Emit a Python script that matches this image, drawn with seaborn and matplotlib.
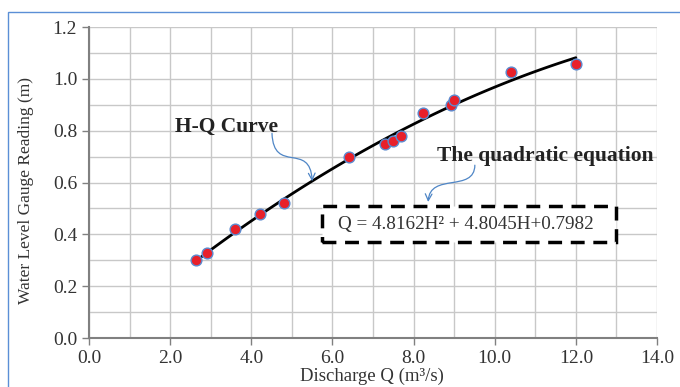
import numpy as np
import pandas as pd
import seaborn as sns
import matplotlib.pyplot as plt
from matplotlib.path import Path
from matplotlib.patches import FancyArrowPatch, Rectangle
from matplotlib.ticker import MultipleLocator

# measured discharge Q (m3/s) and gauge reading H (m)
discharge = [2.64, 2.91, 3.60, 4.21, 4.81, 6.41, 7.30, 7.49, 7.69, 8.23, 8.92, 9.00, 10.40, 12.00]
gauge = [0.30, 0.33, 0.42, 0.478, 0.52, 0.70, 0.748, 0.76, 0.78, 0.868, 0.90, 0.918, 1.026, 1.057]
df = pd.DataFrame({'Q': discharge, 'H': gauge})

# quadratic trendline like the spreadsheet one
coef = np.polyfit(df['Q'], df['H'], 2)
q_fit = np.linspace(min(discharge), max(discharge), 100)
fit = pd.DataFrame({'Q': q_fit, 'H': np.polyval(coef, q_fit)})

sns.set_style('white')
plt.rcParams['font.family'] = ['Liberation Serif', 'DejaVu Serif']

fig = plt.figure(figsize=(6.8, 3.87), dpi=100)
ax = fig.add_axes([0.1309, 0.1266, 0.8353, 0.8034])

sns.lineplot(data=fit, x='Q', y='H', color='black', lw=2, ax=ax, zorder=3)
sns.scatterplot(data=df, x='Q', y='H', color='#e8202a', edgecolor='#5b8bd0',
                linewidth=1, s=60, ax=ax, zorder=4)

ax.set_xlim(0, 14)
ax.set_ylim(0, 1.2)
ax.xaxis.set_major_locator(MultipleLocator(2))
ax.xaxis.set_minor_locator(MultipleLocator(1))
ax.yaxis.set_major_locator(MultipleLocator(0.2))
ax.yaxis.set_minor_locator(MultipleLocator(0.1))
ax.xaxis.set_major_formatter(lambda v, p: f'{v:.1f}')
ax.yaxis.set_major_formatter(lambda v, p: f'{v:.1f}')
ax.grid(True, which='both', color='#c8c8c8', lw=1)
ax.set_axisbelow(True)
for s in ['top', 'right']:
    ax.spines[s].set_visible(False)
for s in ['left', 'bottom']:
    ax.spines[s].set_color('#808080')
    ax.spines[s].set_linewidth(1.5)
ax.tick_params(which='major', length=5, width=1, color='#808080',
               labelsize=14, labelcolor='#333333', direction='out',
               bottom=True, left=True)
ax.set_xlabel('Discharge Q (m³/s)', fontsize=13.5, color='#333333')
ax.set_ylabel('Water Level Gauge Reading (m)', fontsize=12.5, color='#333333')
ax.yaxis.set_label_coords(-0.096, 0.475)
ax.xaxis.set_label_coords(0.498, -0.095)

# annotations
ax.text(3.38, 0.815, 'H-Q Curve', fontsize=15.5, fontweight='bold', color='#222222',
        ha='center', va='center')
ax.text(11.24, 0.702, 'The quadratic equation', fontsize=15.5, fontweight='bold',
        color='#222222', ha='center', va='center')

blue = '#4f86c6'
p1 = Path([(4.51, 0.79), (4.55, 0.63), (5.45, 0.76), (5.50, 0.605)],
          [Path.MOVETO, Path.CURVE4, Path.CURVE4, Path.CURVE4])
p2 = Path([(9.51, 0.667), (9.5, 0.56), (8.4, 0.64), (8.36, 0.525)],
          [Path.MOVETO, Path.CURVE4, Path.CURVE4, Path.CURVE4])
for p in (p1, p2):
    ax.add_patch(FancyArrowPatch(path=p, arrowstyle='->', mutation_scale=12,
                                 color=blue, lw=0.9, zorder=5))

ax.add_patch(Rectangle((5.745, 0.370), 7.245, 0.139, fc='white', ec='black',
                       lw=2.5, ls=(0, (4, 2.5)), zorder=5))
ax.text(9.29, 0.44, 'Q = 4.8162H² + 4.8045H+0.7982', fontsize=13.8,
        color='#333333', ha='center', va='center', zorder=6)

# blue frame of the original figure
fig.add_artist(Rectangle((0.0118, -0.2), 1.2, 0.969 + 0.2, transform=fig.transFigure,
                         fill=False, ec='#5b8fd6', lw=1))

fig.savefig('out.png', dpi=100)
